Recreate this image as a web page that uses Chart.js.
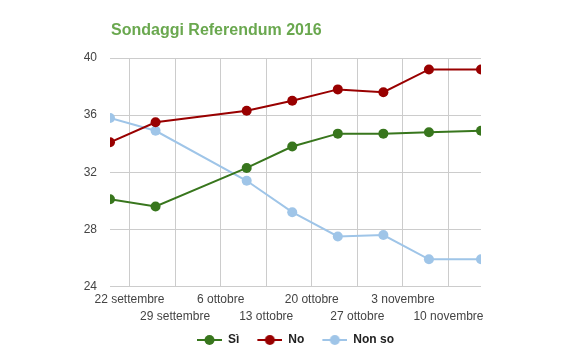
<!DOCTYPE html>
<html>
<head>
<meta charset="utf-8">
<script src="https://cdn.jsdelivr.net/npm/chart.js@4.4.0/dist/chart.umd.min.js"></script>
<style>
html,body{margin:0;padding:0;background:#fff;}
#wrap{width:574px;height:357px;position:relative;}
</style>
</head>
<body>
<div id="wrap"><canvas id="c" width="574" height="357"></canvas></div>
<script>
// ---- data ----
const titleText = 'Sondaggi Referendum 2016';
const pollDates = ['2016-09-19','2016-09-26','2016-10-10','2016-10-17','2016-10-24','2016-10-31','2016-11-07','2016-11-15'];
const siValues    = [30.1, 29.6, 32.3, 33.8, 34.7, 34.7, 34.8, 34.9];
const noValues    = [34.1, 35.5, 36.3, 37.0, 37.8, 37.6, 39.2, 39.2];
const nonSoValues = [35.8, 34.9, 31.4, 29.2, 27.5, 27.6, 25.9, 25.9];
const seriesNames = ['Sì', 'No', 'Non so'];
const seriesColors = ['#38761d', '#990000', '#9fc5e8'];
const tickDates = ['2016-09-22','2016-09-29','2016-10-06','2016-10-13','2016-10-20','2016-10-27','2016-11-03','2016-11-10'];
const tickLabels = ['22 settembre','29 settembre','6 ottobre','13 ottobre','20 ottobre','27 ottobre','3 novembre','10 novembre'];
const yTicks = [24, 28, 32, 36, 40];

const DAY = 86400000;
const origin = Date.UTC(2016, 8, 22);
const toDay = s => { const p = s.split('-').map(Number); return Math.round((Date.UTC(p[0], p[1]-1, p[2]) - origin) / DAY); };
const xs = pollDates.map(toDay);
const tickXs = tickDates.map(toDay);
const tickLabelMap = {};
tickXs.forEach((v, i) => { tickLabelMap[v] = i % 2 === 0 ? [tickLabels[i]] : ['', tickLabels[i]]; });

// legend marker: short line with a dot, with blank space on its left for item spacing
function legendIcon(color) {
  const cv = document.createElement('canvas');
  cv.width = 39; cv.height = 12;
  const g = cv.getContext('2d');
  g.strokeStyle = color; g.lineWidth = 2;
  g.beginPath(); g.moveTo(14, 6); g.lineTo(39, 6); g.stroke();
  g.fillStyle = color;
  g.beginPath(); g.arc(26.5, 6, 5, 0, Math.PI * 2); g.fill();
  return cv;
}
const icons = seriesColors.map(legendIcon);

const seriesValues = [siValues, noValues, nonSoValues];
const datasets = seriesValues.map((vals, i) => ({
  label: seriesNames[i],
  data: vals.map((v, j) => ({ x: xs[j], y: v })),
  borderColor: seriesColors[i],
  backgroundColor: seriesColors[i],
  pointBackgroundColor: seriesColors[i],
  pointBorderColor: seriesColors[i],
  borderWidth: 2,
  pointRadius: 5,
  pointBorderWidth: 0,
  tension: 0
}));

const titlePlugin = {
  id: 'leftTitle',
  afterLayout(chart) {
    // centre the legend under the plot area rather than the whole canvas
    if (chart.legend) chart.legend.left += 96;
  },
  afterDraw(chart) {
    const ctx = chart.ctx;
    ctx.save();
    ctx.font = 'bold 16px "Liberation Sans", Arial, sans-serif';
    ctx.fillStyle = '#6aa84f';
    ctx.textAlign = 'left';
    ctx.textBaseline = 'middle';
    ctx.fillText(titleText, chart.chartArea.left + 1, 31);
    ctx.restore();
  }
};

new Chart(document.getElementById('c'), {
  type: 'line',
  data: { datasets },
  options: {
    responsive: false,
    animation: false,
    layout: { padding: { left: 0, right: 93, top: 58, bottom: 1 } },
    plugins: {
      title: { display: false },
      tooltip: { enabled: false },
      legend: {
        display: true,
        position: 'bottom',
        labels: {
          usePointStyle: true,
          pointStyleWidth: 39,
          boxHeight: 12,
          padding: 4,
          color: '#222',
          font: { family: '"Liberation Sans", Arial, sans-serif', size: 12, weight: 'bold' },
          generateLabels(chart) {
            const items = Chart.defaults.plugins.legend.labels.generateLabels(chart);
            return items.map((it, i) => Object.assign(it, { pointStyle: icons[i] }));
          }
        }
      }
    },
    scales: {
      x: {
        type: 'linear',
        min: xs[0],
        max: xs[xs.length - 1],
        afterBuildTicks(scale) { scale.ticks = tickXs.map(v => ({ value: v })); },
        grid: { color: '#cccccc', drawTicks: false },
        border: { display: false },
        ticks: {
          autoSkip: false,
          maxRotation: 0,
          padding: 5,
          color: '#444',
          font: { family: '"Liberation Sans", Arial, sans-serif', size: 12, lineHeight: 1.4 },
          callback: v => tickLabelMap[v] || ''
        }
      },
      y: {
        min: yTicks[0],
        max: yTicks[yTicks.length - 1],
        afterBuildTicks(scale) { scale.ticks = yTicks.map(v => ({ value: v })); },
        afterFit(scale) { scale.width = 110; },
        grid: { color: '#cccccc', drawTicks: false },
        border: { display: false },
        ticks: {
          padding: 13,
          color: '#444',
          font: { family: '"Liberation Sans", Arial, sans-serif', size: 12 }
        }
      }
    }
  },
  plugins: [titlePlugin]
});
</script>
</body>
</html>
